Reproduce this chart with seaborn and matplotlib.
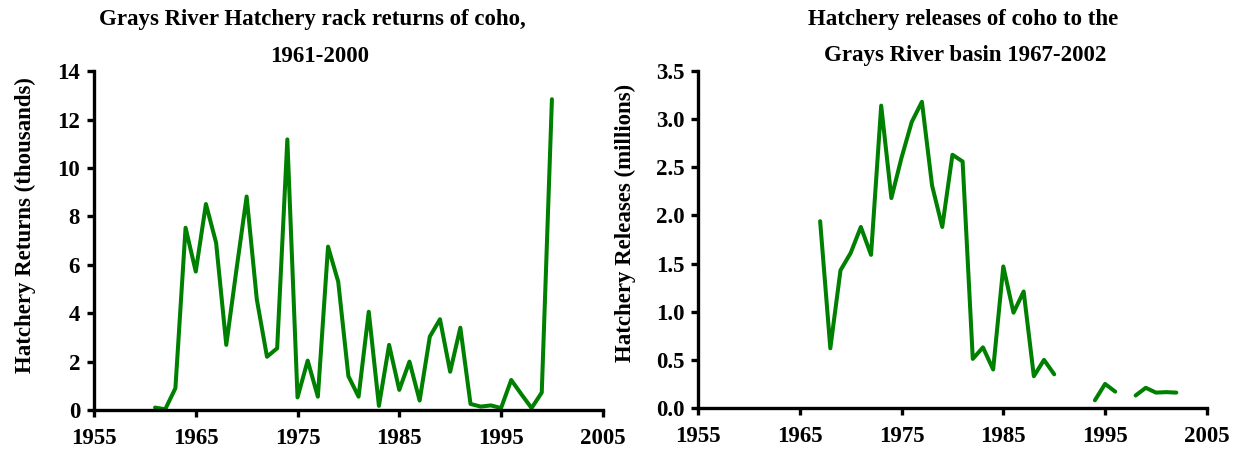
"""Grays River hatchery coho: rack returns and releases."""

import matplotlib
matplotlib.use("Agg")
import matplotlib.pyplot as plt
import numpy as np
import pandas as pd
import seaborn as sns

# rack returns (thousands), 1961-2000
return_years = list(range(1961, 2001))
returns = [
    0.10, 0.03, 0.90, 7.53, 5.72, 8.51, 6.91, 2.69, 5.80, 8.82,
    4.57, 2.20, 2.55, 11.18, 0.52, 2.04, 0.55, 6.75, 5.30, 1.40,
    0.55, 4.06, 0.17, 2.69, 0.83, 2.00, 0.39, 3.03, 3.75, 1.58,
    3.40, 0.25, 0.14, 0.19, 0.08, 1.24, 0.65, 0.08, 0.72, 12.84,
]

# releases (millions), 1967-2002, with gaps where no data
release_years = list(range(1967, 1991)) + [1994, 1995, 1996] + list(range(1998, 2003))
releases = [
    1.94, 0.62, 1.43, 1.61, 1.88, 1.59, 3.14, 2.18, 2.60, 2.97,
    3.18, 2.31, 1.88, 2.63, 2.56, 0.51, 0.63, 0.40, 1.47, 0.99,
    1.21, 0.33, 0.50, 0.35,
    0.08, 0.25, 0.17,
    0.13, 0.21, 0.16, 0.165, 0.16,
]
release_runs = [0] * 24 + [1] * 3 + [2] * 5

GREEN = "#008000"
FS = 16.5

sns.set_style("ticks")
plt.rcParams["font.family"] = ["Liberation Serif", "DejaVu Serif"]
plt.rcParams["font.weight"] = "bold"
plt.rcParams["text.color"] = "black"
plt.rcParams["axes.labelcolor"] = "black"

fig = plt.figure(figsize=(12.35, 4.5), dpi=100)
ax1 = fig.add_axes([0.0761, 0.0889, 0.412, 0.753])
ax2 = fig.add_axes([0.5652, 0.0933, 0.412, 0.749])

df_ret = pd.DataFrame({"year": return_years, "value": returns})
sns.lineplot(data=df_ret, x="year", y="value", ax=ax1, color=GREEN, linewidth=2.9)

df_rel = pd.DataFrame({"year": release_years, "value": releases, "run": release_runs})
sns.lineplot(data=df_rel, x="year", y="value", units="run", estimator=None,
             ax=ax2, color=GREEN, linewidth=2.9)

for ax in (ax1, ax2):
    ax.set_xlim(1955, 2005)
    ax.set_xticks(np.arange(1955, 2006, 10))
    ax.set_xlabel("")
    for s in ("top", "right"):
        ax.spines[s].set_visible(False)
    for s in ("left", "bottom"):
        ax.spines[s].set_linewidth(2.4)
        ax.spines[s].set_color("black")
    ax.tick_params(axis="both", direction="out", length=5, width=2.4,
                   labelsize=FS, colors="black", pad=5)
    ax.tick_params(axis="x", pad=8)
    for lab in ax.get_xticklabels() + ax.get_yticklabels():
        lab.set_fontweight("bold")

ax1.set_ylim(0, 14)
ax1.set_yticks(np.arange(0, 15, 2))
ax1.set_ylabel("Hatchery Returns (thousands)", fontsize=FS, fontweight="bold")
ax1.yaxis.set_label_coords(-0.114, 0.545)

ax2.set_ylim(0, 3.5)
ax2.set_yticks(np.arange(0, 3.51, 0.5))
ax2.set_yticklabels([f"{v:.1f}" for v in np.arange(0, 3.51, 0.5)], fontweight="bold")
ax2.set_ylabel("Hatchery Releases (millions)", fontsize=FS, fontweight="bold")
ax2.yaxis.set_label_coords(-0.122, 0.55)

fig.text(312 / 1235, 1 - 19 / 450, "Grays River Hatchery rack returns of coho,",
         ha="center", va="center", fontsize=FS, fontweight="bold")
fig.text(320 / 1235, 1 - 56 / 450, "1961-2000",
         ha="center", va="center", fontsize=FS, fontweight="bold")
fig.text(963 / 1235, 1 - 19 / 450, "Hatchery releases of coho to the",
         ha="center", va="center", fontsize=FS, fontweight="bold")
fig.text(965 / 1235, 1 - 56 / 450, "Grays River basin 1967-2002",
         ha="center", va="center", fontsize=FS, fontweight="bold")

fig.savefig("out.png", dpi=100)
